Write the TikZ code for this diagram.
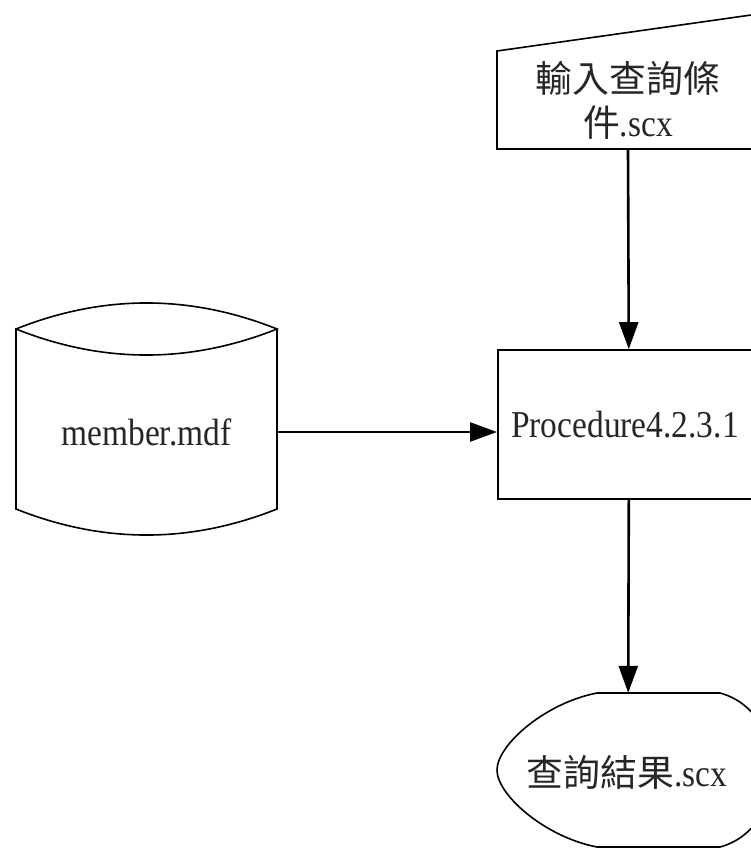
\documentclass[tikz,border=0pt]{standalone}
\usepackage{fontspec}
\setmainfont[FakeStretch=0.88]{Liberation Serif}
\newfontfamily\cjk[Scale=0.97]{Noto Sans CJK TC}
\usetikzlibrary{arrows.meta}
\tikzset{
  shapeline/.style={draw=black, line width=1.6pt, line join=miter},
  flowarrow/.style={draw=black, line width=2.6pt, -{Triangle[length=27pt,width=19pt]}},
  txt/.style={font=\fontsize{38}{44}\selectfont, text=black!85, align=center, inner sep=0pt},
}
\begin{document}
\begin{tikzpicture}[x=1pt,y=-1pt]
\useasboundingbox[fill=white] (0,0) rectangle (751,848);
% manual input
\draw[shapeline] (497,51) -- (790,9.5) -- (790,149) -- (497,149) -- cycle;
\node[txt, minimum width=262pt, minimum height=98pt] (inp) at (628,100) {{\cjk 輸入查詢條}\\{\cjk 件}.scx};
% process
\node[txt, shapeline, minimum width=262pt, minimum height=149pt, anchor=west] (proc) at (497,424.5) {};
\node[txt] at (625,424.5) {Procedure4.2.3.1};
% database
\draw[shapeline] (16,329) .. controls (103,294.3) and (190,294.3) .. (277,329)
  .. controls (190,363.7) and (103,363.7) .. (16,329) -- (16,509)
  .. controls (103,543.7) and (190,543.7) .. (277,509) -- (277,329);
\node[txt, minimum width=261pt, minimum height=180pt] (db) at (146.5,432) {member.mdf};
% display
\draw[shapeline] (597,693) -- (720,693) .. controls (790,712) and (790,828) .. (720,847)
  -- (597,847) .. controls (545,837) and (497,795) .. (497,770)
  .. controls (497,745) and (545,703) .. (597,693) -- cycle;
\node[txt, minimum width=262pt, minimum height=154pt, anchor=west] (disp) at (497,770) {};
\node[txt] at (627,772) {{\cjk 查詢結果}.scx};
% connectors
\draw[flowarrow] (inp.south) -- (proc.north);
\draw[flowarrow] (db.east) -- (db.east -| proc.west);
\draw[flowarrow] (proc.south) -- (disp.north);
\end{tikzpicture}
\end{document}
